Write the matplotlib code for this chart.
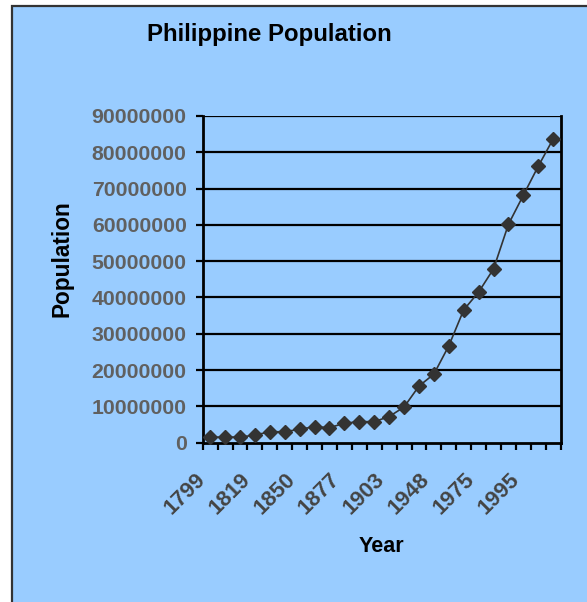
import matplotlib
matplotlib.use("Agg")
import matplotlib.pyplot as plt
from matplotlib.patches import Rectangle
from matplotlib.ticker import FixedLocator
from matplotlib.transforms import ScaledTranslation

# census years (only every third is labelled on the chart)
years = [1799, 1800, 1812, 1819, 1829, 1840, 1850, 1858, 1870, 1877, 1887, 1896,
         1903, 1918, 1939, 1948, 1960, 1970, 1975, 1980, 1990, 1995, 2000, 2005]
population = [1500000, 1560000, 1530000, 2110000, 3000000, 3030000, 3700000, 4400000,
              4150000, 5350000, 5800000, 5800000, 7200000, 9830000, 15600000, 18900000,
              26700000, 36600000, 41500000, 47900000, 60200000, 68200000, 76200000, 83700000]
yticks = [0, 10000000, 20000000, 30000000, 40000000, 50000000, 60000000, 70000000,
          80000000, 90000000]

bg = "#99CCFF"
plt.rcParams["font.family"] = ["Liberation Sans", "DejaVu Sans"]
plt.rcParams["font.weight"] = "bold"

W, H = 587, 602
fig = plt.figure(figsize=(W / 100, H / 100), dpi=100, facecolor="white")

# chart area with dark border (runs off right and bottom edges)
fig.patches.append(Rectangle((11.5 / W, -0.1), 1.2, 1.1 - 5.5 / H,
                             transform=fig.transFigure, facecolor=bg,
                             edgecolor="#333333", linewidth=1.6, zorder=-5))

ax = fig.add_axes([202.7 / W, 1 - 442.7 / H, (560.7 - 202.7) / W, (442.7 - 116) / H])
ax.set_facecolor(bg)

x = list(range(len(years)))
ax.plot(x, population, color="#333333", linewidth=1.2, marker="D",
        markersize=7.6, markerfacecolor="#333333", markeredgecolor="#333333",
        zorder=3, clip_on=False)

ax.set_xlim(-0.5, len(years) - 0.5)
ax.set_ylim(0, 90000000)

ax.set_yticks(yticks)
ax.set_yticklabels([str(v) for v in yticks], fontsize=15.3, color="#606060", fontweight="bold")
for v in yticks[1:]:
    ax.axhline(v, color="black", linewidth=1.6, zorder=1)

ax.xaxis.set_major_locator(FixedLocator([i for i in x if i % 3 == 0]))
ax.set_xticklabels([str(years[i]) for i in x if i % 3 == 0], rotation=45,
                   ha="right", va="top", fontsize=15.8, color="#444444", fontweight="bold")
shift = ScaledTranslation(-4 / 100, 0, fig.dpi_scale_trans)
for lbl in ax.get_xticklabels():
    lbl.set_transform(lbl.get_transform() + shift)
ax.xaxis.set_minor_locator(FixedLocator([i - 0.5 for i in range(len(years) + 1)]))
ax.tick_params(axis="x", which="major", length=0, pad=19)
ax.tick_params(axis="x", which="minor", length=5, width=1.6, color="black", direction="out")
ax.tick_params(axis="y", length=5, width=1.6, color="black", direction="out", pad=6.5)

for side in ["left", "bottom", "right"]:
    ax.spines[side].set_color("black")
    ax.spines[side].set_linewidth(2)
ax.spines["top"].set_visible(False)

fig.text(269.5 / W, 1 - 34 / H, "Philippine Population", ha="center", va="center",
         fontsize=17.3, fontweight="bold", color="black")
fig.text(62 / W, 1 - 259 / H, "Population", ha="center", va="center", rotation=90,
         fontsize=16.3, fontweight="bold", color="black")
fig.text(381 / W, 1 - 546 / H, "Year", ha="center", va="center",
         fontsize=15.5, fontweight="bold", color="black")

fig.savefig("out.png", dpi=100, facecolor="white")
